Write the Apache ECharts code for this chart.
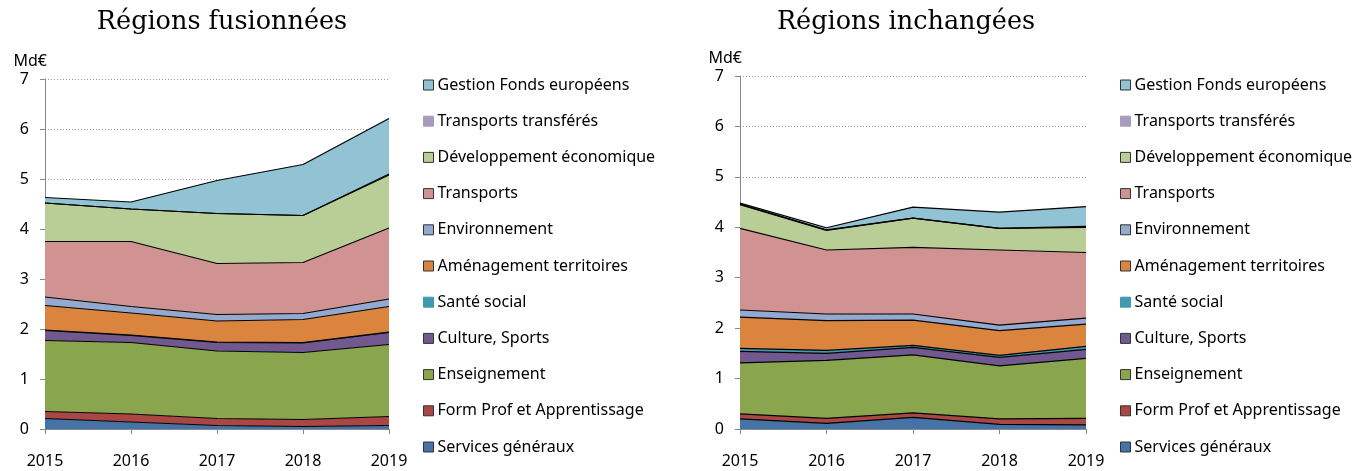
<!DOCTYPE html>
<html>
<head>
<meta charset="utf-8">
<script src="https://cdn.jsdelivr.net/npm/echarts@6/dist/echarts.min.js"></script>
<style>
  html, body { margin: 0; padding: 0; background: #fff; }
  #chart { width: 1371px; height: 471px; }
</style>
</head>
<body>
<div id="chart"></div>
<script>
  // années
  var years = ['2015', '2016', '2017', '2018', '2019'];

  // noms des postes, du bas de la pile vers le haut
  var names = ['Services généraux', 'Form Prof et Apprentissage', 'Enseignement', 'Culture, Sports',
    'Santé social', 'Aménagement territoires', 'Environnement', 'Transports',
    'Développement économique', 'Transports transférés', 'Gestion Fonds européens'];

  // Régions fusionnées (Md€)
  var fusServices = [0.21, 0.14, 0.07, 0.05, 0.07];
  var fusFormProf = [0.14, 0.16, 0.14, 0.14, 0.18];
  var fusEnseignement = [1.42, 1.43, 1.35, 1.34, 1.44];
  var fusCulture = [0.20, 0.14, 0.17, 0.19, 0.24];
  var fusSante = [0.01, 0.01, 0.01, 0.01, 0.01];
  var fusAmenagement = [0.49, 0.44, 0.42, 0.46, 0.51];
  var fusEnvironnement = [0.17, 0.13, 0.13, 0.12, 0.15];
  var fusTransports = [1.11, 1.30, 1.02, 1.02, 1.42];
  var fusDevEco = [0.77, 0.65, 1.00, 0.94, 1.06];
  var fusTranspTransf = [0, 0, 0, 0, 0.02];
  var fusGestionFE = [0.11, 0.14, 0.66, 1.02, 1.11];

  // Régions inchangées (Md€)
  var incServices = [0.20, 0.11, 0.23, 0.09, 0.08];
  var incFormProf = [0.10, 0.10, 0.09, 0.11, 0.13];
  var incEnseignement = [1.01, 1.15, 1.15, 1.05, 1.19];
  var incCulture = [0.23, 0.14, 0.15, 0.17, 0.18];
  var incSante = [0.06, 0.06, 0.04, 0.04, 0.06];
  var incAmenagement = [0.62, 0.59, 0.50, 0.49, 0.44];
  var incEnvironnement = [0.14, 0.13, 0.12, 0.11, 0.12];
  var incTransports = [1.62, 1.27, 1.32, 1.49, 1.30];
  var incDevEco = [0.47, 0.39, 0.58, 0.43, 0.50];
  var incTranspTransf = [0.01, 0.01, 0, 0, 0.02];
  var incGestionFE = [0.02, 0.04, 0.22, 0.32, 0.39];

  var yTicks = [0, 1, 2, 3, 4, 5, 6, 7];

  var colors = ['#4572A7', '#AA4643', '#89A54E', '#71588F', '#4198AF', '#DB843D',
    '#93A9CF', '#D19392', '#B9CD96', '#A99BBD', '#92C3D4'];

  var fusData = [fusServices, fusFormProf, fusEnseignement, fusCulture, fusSante, fusAmenagement,
    fusEnvironnement, fusTransports, fusDevEco, fusTranspTransf, fusGestionFE];
  var incData = [incServices, incFormProf, incEnseignement, incCulture, incSante, incAmenagement,
    incEnvironnement, incTransports, incDevEco, incTranspTransf, incGestionFE];

  var font = 'Noto Sans';
  var noBorder = ['Santé social', 'Transports transférés'];

  function makeSeries(data, idx, stack) {
    return data.map(function (vals, i) {
      return {
        name: names[i],
        type: 'line',
        stack: stack,
        xAxisIndex: idx,
        yAxisIndex: idx,
        data: vals,
        symbol: 'none',
        color: colors[i],
        lineStyle: { color: '#000', width: 1.2 },
        areaStyle: { color: colors[i], opacity: 1 },
        emphasis: { disabled: true }
      };
    });
  }

  function legendData() {
    return names.slice().reverse().map(function (n) {
      var i = names.indexOf(n);
      return {
        name: n,
        itemStyle: {
          color: colors[i],
          borderColor: noBorder.indexOf(n) >= 0 ? colors[i] : '#333',
          borderWidth: 1
        }
      };
    });
  }

  function legend(left) {
    return {
      orient: 'vertical',
      left: left,
      top: 72,
      height: 420,
      icon: 'rect',
      itemWidth: 10,
      itemHeight: 10,
      itemGap: 20.2,
      selectedMode: false,
      data: legendData(),
      textStyle: { fontFamily: font, fontSize: 16, color: '#000', padding: [0, 0, 0, -1] }
    };
  }

  function xAxis(idx) {
    return {
      type: 'category',
      gridIndex: idx,
      data: years,
      boundaryGap: false,
      axisLine: { lineStyle: { color: '#888' } },
      axisTick: { show: true, length: 5, lineStyle: { color: '#888' } },
      axisLabel: { fontFamily: font, fontSize: 16, color: '#000', margin: 24 }
    };
  }

  function yAxis(idx) {
    return {
      type: 'value',
      gridIndex: idx,
      min: yTicks[0],
      max: yTicks[yTicks.length - 1],
      interval: 1,
      name: 'Md€',
      nameLocation: 'end',
      nameGap: 10,
      nameTextStyle: { fontFamily: font, fontSize: 16, color: '#000', align: 'right', padding: [0, -2, 0, 0] },
      axisLine: { show: true, lineStyle: { color: '#888' } },
      axisTick: { show: true, length: 5, lineStyle: { color: '#888' } },
      axisLabel: { fontFamily: font, fontSize: 16, color: '#000', margin: 16 },
      splitLine: { show: true, lineStyle: { color: '#999', type: [1, 2], width: 1 } }
    };
  }

  var chart = echarts.init(document.getElementById('chart'), null, { renderer: 'canvas' });
  chart.setOption({
    animation: false,
    backgroundColor: '#fff',
    title: [
      { text: 'Régions fusionnées', left: 217, top: 4, textAlign: 'center',
        textStyle: { fontFamily: 'DejaVu Serif', fontSize: 25.5, fontWeight: 'normal', color: '#000' } },
      { text: 'Régions inchangées', left: 901, top: 4, textAlign: 'center',
        textStyle: { fontFamily: 'DejaVu Serif', fontSize: 25.5, fontWeight: 'normal', color: '#000' } }
    ],
    legend: [legend(418), legend(1115)],
    grid: [
      { left: 45, width: 344, top: 79, bottom: 42 },
      { left: 740, width: 346, top: 76, bottom: 42 }
    ],
    xAxis: [xAxis(0), xAxis(1)],
    yAxis: [yAxis(0), yAxis(1)],
    series: makeSeries(fusData, 0, 'fus').concat(makeSeries(incData, 1, 'inc'))
  });
</script>
</body>
</html>
